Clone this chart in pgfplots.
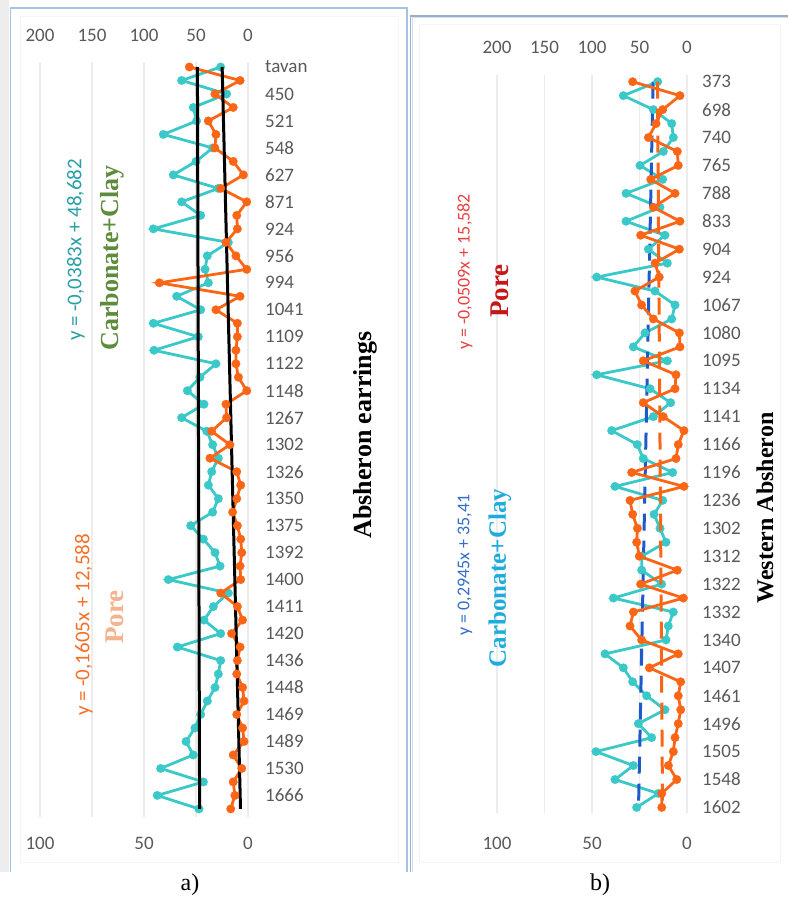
\documentclass[border=0pt]{standalone}
\usepackage{pgfplots}
\usepackage{pgfplotstable}
\pgfplotsset{compat=1.18}
\usepackage{fontspec}
\setmainfont{Carlito}
\newfontfamily\tnr{Liberation Serif}
\definecolor{cy}{RGB}{58,200,200}
\definecolor{orr}{RGB}{250,102,22}
\definecolor{tickc}{RGB}{89,89,89}
\definecolor{gridc}{RGB}{236,236,236}
\definecolor{frameblue}{RGB}{165,195,228}
\definecolor{eqteal}{RGB}{40,160,165}
\definecolor{ccgreen}{RGB}{92,140,60}
\definecolor{eqorange}{RGB}{245,112,40}
\definecolor{porepeach}{RGB}{245,178,140}
\definecolor{eqred}{RGB}{232,64,64}
\definecolor{porered}{RGB}{196,24,24}
\definecolor{eqblue}{RGB}{50,110,200}
\definecolor{cccyan}{RGB}{30,172,222}
\definecolor{trendblue}{RGB}{30,90,200}

\pgfplotstableread{
i c o
0 26.3 28.2
1 63.8 3.8
2 20.5 15.9
3 52.6 7.1
4 49.4 19.1
5 81.4 15.4
6 34.0 15.9
7 50.0 7.1
8 71.8 2.2
9 28.5 13.1
10 63.8 0.6
11 45.5 5.4
12 91.0 5.1
13 18.9 10.6
14 39.1 5.8
15 41.3 0.6
16 38.1 42.6
17 68.6 3.8
18 45.5 15.4
19 91.0 5.1
20 47.8 5.1
21 90.4 5.8
22 30.8 5.8
23 46.2 4.6
24 58.3 0.6
25 42.3 10.6
26 63.8 10.3
27 39.7 17.5
28 34.0 8.7
29 28.5 18.3
30 34.9 5.4
31 38.1 3.5
32 28.5 5.4
33 34.0 7.4
34 55.1 5.1
35 42.9 3.5
36 31.7 3.0
37 26.9 3.8
38 76.6 3.5
39 18.9 13.1
40 33.3 5.1
41 42.3 2.6
42 26.3 7.9
43 67.9 3.8
44 26.3 5.1
45 28.5 5.4
46 31.7 2.6
47 39.1 1.9
48 45.5 5.4
49 51.0 2.6
50 59.6 1.9
51 52.6 7.1
52 84.0 3.0
53 42.9 7.1
54 87.2 6.3
55 47.1 8.3
}\dataA

\pgfplotstableread{
i c o
0 30.9 28.6
1 67.0 3.7
2 35.4 12.8
3 16.1 16.3
4 14.4 20.3
5 24.9 5.1
6 49.5 4.6
7 25.6 19.1
8 64.2 6.3
9 28.4 17.7
10 64.2 3.7
11 23.2 24.4
12 40.7 4.0
13 20.7 16.8
14 95.1 14.6
15 33.7 27.4
16 12.6 23.9
17 16.1 17.7
18 44.2 4.0
19 56.5 3.7
20 20.7 23.0
21 95.1 5.8
22 38.9 6.3
23 17.2 23.0
24 35.4 12.5
25 79.3 1.6
26 52.3 4.6
27 46.0 5.8
28 15.1 29.1
29 75.8 1.6
30 25.6 30.0
31 34.7 28.6
32 28.4 26.1
33 22.1 26.5
34 47.7 25.1
35 47.7 5.1
36 26.7 24.4
37 77.5 1.9
38 14.4 28.2
39 19.7 30.0
40 22.1 23.9
41 86.3 4.6
42 67.0 19.8
43 57.2 3.3
44 42.5 4.6
45 23.2 3.3
46 51.2 4.6
47 37.2 6.3
48 95.8 7.2
49 56.5 9.8
50 75.8 5.4
51 30.2 13.3
52 53.0 13.3
}\dataB

\pgfplotsset{
  base/.style={
    scale only axis, x dir=reverse, y dir=reverse,
    axis line style={draw=none}, major tick length=0pt,
    /pgf/number format/assume math mode=true,
    ticklabel style={font=\fontsize{19}{19}\selectfont, text=tickc},
    enlargelimits=false, clip=false,
  },
  cyser/.style={cy, line width=2.8pt, mark=*, mark size=4.3pt,
    mark options={solid, fill=cy, draw=cy, line width=0.2pt}},
  orser/.style={orr, line width=2.8pt, mark=*, mark size=4.3pt,
    mark options={solid, fill=orr, draw=orr, line width=0.2pt}},
}

\begin{document}
\begin{tikzpicture}
\begin{scope}[x=1pt,y=1pt]
\path[use as bounding box, fill=white] (0,0) rectangle (788,905);
\fill[gray!14] (0,33) rectangle (9,905);
\draw[gray!8, line width=1pt] (20,42) rectangle (398,888);
\draw[gray!8, line width=1pt] (419,42) rectangle (780,880);
\draw[frameblue, line width=1.6pt] (10.5,33) -- (10.5,897) -- (407,897) -- (407,33);
\draw[frameblue!70!gray, line width=1.6pt] (410.5,33) -- (410.5,889) -- (788,889);
\draw[frameblue!50, line width=1pt] (412.5,33) -- (412.5,887) -- (788,887);
\end{scope}

% ---------- panel a ----------
\begin{axis}[base, at={(40pt,88pt)}, anchor=south west, width=208pt, height=755pt,
  xmin=0, xmax=200, ymin=-0.37, ymax=55.6,
  xtick={0,50,100,150,200}, xticklabel pos=top,
  xticklabel style={anchor=center, yshift=27pt},
  xmajorgrids, grid style={draw=gridc, line width=1.2pt},
  ytick={0,2,...,54}, yticklabel pos=right,
  yticklabels={tavan,450,521,548,627,871,924,956,994,1041,1109,1122,1148,1267,1302,1326,1350,1375,1392,1400,1411,1420,1436,1448,1469,1489,1530,1666},
  yticklabel style={anchor=west, inner sep=0pt, xshift=17pt}]
\addplot[cyser] table[x=c, y=i] {\dataA};
\end{axis}
\begin{axis}[base, at={(40pt,88pt)}, anchor=south west, width=208pt, height=755pt,
  xmin=0, xmax=100, ymin=-0.37, ymax=55.6,
  xtick={0,50,100}, xticklabel pos=bottom,
  xticklabel style={anchor=center, yshift=-26pt}, ytick=\empty]
\addplot[orser] table[x=o, y=i] {\dataA};
\addplot[black, line width=3pt] coordinates {(12.43,0) (3.60,55)};
\end{axis}
\begin{axis}[base, at={(40pt,88pt)}, anchor=south west, width=208pt, height=755pt,
  xmin=0, xmax=200, ymin=-0.37, ymax=55.6, xtick=\empty, ytick=\empty]
\addplot[black, line width=3pt] coordinates {(48.64,0) (46.54,55)};
\end{axis}

% ---------- panel b ----------
\begin{axis}[base, at={(497pt,92pt)}, anchor=south west, width=190pt, height=738pt,
  xmin=0, xmax=200, ymin=-0.48, ymax=52.4,
  xtick={0,50,100,150,200}, xticklabel pos=top,
  xticklabel style={anchor=center, yshift=28pt},
  xmajorgrids, grid style={draw=gridc, line width=1.2pt},
  ytick={0,2,...,52}, yticklabel pos=right,
  yticklabels={373,698,740,765,788,833,904,924,1067,1080,1095,1134,1141,1166,1196,1236,1302,1312,1322,1332,1340,1407,1461,1496,1505,1548,1602},
  yticklabel style={anchor=west, inner sep=0pt, xshift=15pt}]
\addplot[cyser] table[x=c, y=i] {\dataB};
\addplot[trendblue, line width=3pt, dash pattern=on 17pt off 10pt] coordinates {(35.70,0) (51.02,52)};
\end{axis}
\begin{axis}[base, at={(497pt,92pt)}, anchor=south west, width=190pt, height=738pt,
  xmin=0, xmax=100, ymin=-0.48, ymax=52.4,
  xtick={0,50,100}, xticklabel pos=bottom,
  xticklabel style={anchor=center, yshift=-30pt}, ytick=\empty]
\addplot[orser] table[x=o, y=i] {\dataB};
\addplot[orr, line width=3pt, dash pattern=on 17pt off 10pt] coordinates {(15.53,0) (12.88,52)};
\end{axis}

% ---------- texts ----------
\begin{scope}[x=1pt,y=1pt]
\node[rotate=90, text=eqteal, font=\fontsize{21}{21}\selectfont] at (76,655) {y = -0,0383x + 48,682};
\node[rotate=90, text=ccgreen, font=\tnr\bfseries\fontsize{26}{26}\selectfont] at (112,647) {Carbonate+Clay};
\node[rotate=90, text=eqorange, font=\fontsize{21}{21}\selectfont] at (84,280) {y = -0,1605x + 12,588};
\node[rotate=90, text=porepeach, font=\tnr\bfseries\fontsize{27}{27}\selectfont] at (115,288) {Pore};
\node[rotate=90, text=black, font=\tnr\bfseries\fontsize{26}{26}\selectfont] at (365,470) {Absheron earrings};
\node[rotate=90, text=eqred, font=\fontsize{18}{18}\selectfont] at (465,633) {y = -0,0509x + 15,582};
\node[rotate=90, text=porered, font=\tnr\bfseries\fontsize{27}{27}\selectfont] at (500,614) {Pore};
\node[rotate=90, text=eqblue, font=\fontsize{18}{18}\selectfont] at (465,340) {y = 0,2945x + 35,41};
\node[rotate=90, text=cccyan, font=\tnr\bfseries\fontsize{25}{25}\selectfont] at (500,327) {Carbonate+Clay};
\node[rotate=90, text=black, font=\tnr\bfseries\fontsize{24}{24}\selectfont] at (765,397) {Western Absheron};
\node[font=\tnr\fontsize{24}{24}\selectfont] at (190,20) {a)};
\node[font=\tnr\fontsize{24}{24}\selectfont] at (600,20) {b)};
\end{scope}
\end{tikzpicture}
\end{document}
